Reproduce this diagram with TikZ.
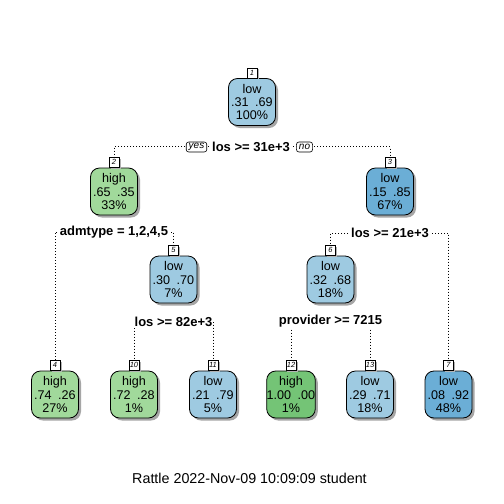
\documentclass[tikz,border=0pt]{standalone}
\usepackage{fontspec}
\setmainfont{Liberation Sans}
\usetikzlibrary{shadows}
\definecolor{lblue}{HTML}{9ECAE1}
\definecolor{dblue}{HTML}{6BAED6}
\definecolor{lgreen}{HTML}{A1D99B}
\definecolor{dgreen}{HTML}{74C476}
\newcommand{\gapsp}{\hspace{6.5pt}}
\begin{document}
\begin{tikzpicture}[x=1pt,y=-1pt,
  tn/.style={draw=black, line width=0.8pt, rounded corners=9pt, minimum width=47pt, minimum height=47pt,
    inner sep=0pt, align=center, font=\fontsize{12.6}{13.4}\selectfont,
    drop shadow={shadow xshift=2.5pt, shadow yshift=-2.5pt, fill=black!35, opacity=1}},
  lab/.style={draw=black, line width=0.6pt, fill=white, inner sep=1pt, minimum height=10pt, minimum width=10pt,
    font=\fontsize{7.5}{7.5}\selectfont\itshape, anchor=south,
    drop shadow={shadow xshift=1.5pt, shadow yshift=-1.5pt, fill=black!30, opacity=1}},
  spl/.style={fill=white, inner sep=1pt, font=\fontsize{13}{14}\selectfont\bfseries},
  yn/.style={draw=black, line width=0.6pt, fill=white, rounded corners=2.5pt, inner xsep=2.5pt, inner ysep=1pt,
    minimum height=10pt, font=\fontsize{10}{10}\selectfont\itshape},
  conn/.style={line width=0.8pt, dash pattern=on 0.8pt off 2.2pt},
]
\useasboundingbox (0,0) rectangle (504,504);
\fill[white] (0,0) rectangle (504,504);
% nodes
\node[tn, fill=lblue] (n1) at (252,102) {low\\.31\gapsp.69\\100\%};
\node[tn, fill=lgreen] (n2) at (114,191.5) {high\\.65\gapsp.35\\33\%};
\node[tn, fill=dblue] (n3) at (390,191.5) {low\\.15\gapsp.85\\67\%};
\node[tn, fill=lblue] (n5) at (173.5,279.5) {low\\.30\gapsp.70\\7\%};
\node[tn, fill=lblue] (n6) at (330.5,279.5) {low\\.32\gapsp.68\\18\%};
\node[tn, fill=lgreen] (n4) at (55,394.5) {high\\.74\gapsp.26\\27\%};
\node[tn, fill=lgreen] (n10) at (134,394.5) {high\\.72\gapsp.28\\1\%};
\node[tn, fill=lblue] (n11) at (213,394.5) {low\\.21\gapsp.79\\5\%};
\node[tn, fill=dgreen] (n12) at (291,394.5) {high\\1.00\gapsp.00\\1\%};
\node[tn, fill=lblue] (n13) at (370,394.5) {low\\.29\gapsp.71\\18\%};
\node[tn, fill=dblue] (n7) at (448.5,394.5) {low\\.08\gapsp.92\\48\%};
% number labels
\node[lab] (l1) at (n1.north) {1};
\node[lab] (l2) at (n2.north) {2};
\node[lab] (l3) at (n3.north) {3};
\node[lab] (l5) at (n5.north) {5};
\node[lab] (l6) at (n6.north) {6};
\node[lab] (l4) at (n4.north) {4};
\node[lab] (l10) at (n10.north) {10};
\node[lab] (l11) at (n11.north) {11};
\node[lab] (l12) at (n12.north) {12};
\node[lab] (l13) at (n13.north) {13};
\node[lab] (l7) at (n7.north) {7};
% split points
\coordinate (c1) at (251,146.5);
\coordinate (c2) at (114,232);
\coordinate (c3) at (390,233);
\coordinate (c5) at (173.5,322);
\coordinate (c6) at (330.5,321);
% connectors
\draw[conn] (c1) -| (l2.north);
\draw[conn] (c1) -| (l3.north);
\draw[conn] (c2) -| (l4.north);
\draw[conn] (c2) -| (l5.north);
\draw[conn] (c3) -| (l6.north);
\draw[conn] (c3) -| (l7.north);
\draw[conn] (c5) -| (l10.north);
\draw[conn] (c5) -| (l11.north);
\draw[conn] (c6) -| (l12.north);
\draw[conn] (c6) -| (l13.north);
% split labels
\node[spl] (s1) at (c1) {los >= 31e+3};
\node[yn] (yes) at (196.5,147) {yes};
\node[yn] (no) at (304.5,147) {no};
\node[spl] (s2) at (c2) {admtype = 1,2,4,5};
\node[spl] (s3) at (c3) {los >= 21e+3};
\node[spl] (s5) at (c5) {los >= 82e+3};
\node[spl] (s6) at (c6) {provider >= 7215};
% title
\node[font=\fontsize{14.3}{15}\selectfont] (title) at (249.5,478) {Rattle 2022-Nov-09 10:09:09 student};
\end{tikzpicture}
\end{document}
